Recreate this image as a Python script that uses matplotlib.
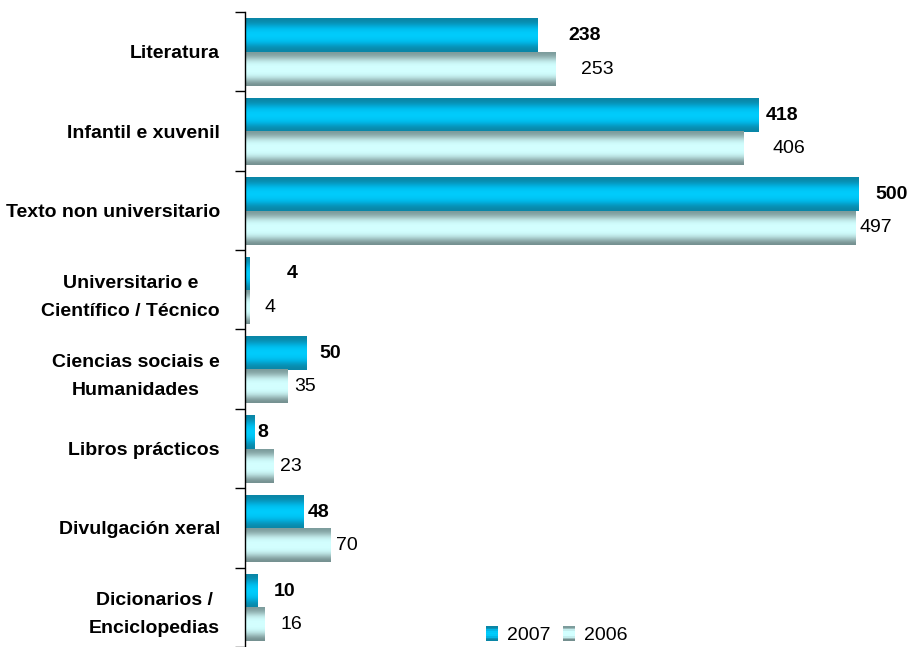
import numpy as np
import matplotlib.pyplot as plt
from matplotlib.patches import Rectangle
from matplotlib.legend_handler import HandlerBase
from matplotlib.colors import to_rgb

plt.rcParams['font.family'] = ['Liberation Sans', 'DejaVu Sans']

categories = ["Literatura", "Infantil e xuvenil", "Texto non universitario",
              "Universitario e\nCientífico / Técnico", "Ciencias sociais e\nHumanidades",
              "Libros prácticos", "Divulgación xeral", "Dicionarios /\nEnciclopedias"]
vals_2007 = [238, 418, 500, 4, 50, 8, 48, 10]
vals_2006 = [253, 406, 497, 4, 35, 23, 70, 16]

# label gaps (pixels) as placed in the original chart
pad_2007 = [31, 8, 17, 37, 13, 3, 4, 17]
pad_2006 = [25, 29, 5, 15, 6, 7, 5, 16]

# vertical colour ramps (top -> bottom) to mimic the shaded bars
ramp_2007 = ["#0a86a6", "#0795bb", "#00b6e6", "#00c8f8", "#00cdfd", "#00c8f8",
             "#00b6e6", "#0795bb", "#0a86a6"]
ramp_2006 = ["#7c9c9c", "#9cbcbc", "#c4eeee", "#d2ffff", "#d4ffff", "#d2ffff",
             "#c4eeee", "#9cbcbc", "#748f8f"]

grad_2007 = np.array([[to_rgb(c)] for c in ramp_2007])
grad_2006 = np.array([[to_rgb(c)] for c in ramp_2006])

fig = plt.figure(figsize=(9.09, 6.47), dpi=100)
ax = fig.add_axes([0.2695, 0.0, 0.7305, 0.9815])

h = 0.42
y = np.arange(len(categories))


def gradient_bar(ax, yc, width, grad):
    # y axis is inverted: top of bar is yc - h/2
    ax.imshow(grad, extent=(0, width, yc + h / 2, yc - h / 2), aspect='auto',
              interpolation='bicubic', zorder=2)


for i in range(len(categories)):
    gradient_bar(ax, y[i] - 0.2, vals_2007[i], grad_2007)
    gradient_bar(ax, y[i] + 0.22, vals_2006[i], grad_2006)
    ax.annotate(str(vals_2007[i]), (vals_2007[i], y[i] - 0.2), xytext=(pad_2007[i], 0),
                textcoords='offset pixels', ha='left', va='center',
                fontsize=14, fontweight='bold')
    ax.annotate(str(vals_2006[i]), (vals_2006[i], y[i] + 0.22), xytext=(pad_2006[i], 0),
                textcoords='offset pixels', ha='left', va='center', fontsize=14)

ax.set_xlim(0, 541)
ax.set_ylim(len(categories) - 0.5, -0.5)

for s in ['top', 'right', 'bottom']:
    ax.spines[s].set_visible(False)
ax.spines['left'].set_linewidth(1.0)
ax.set_xticks([])

ax.set_yticks(y)
ax.set_yticklabels(categories, fontsize=14, fontweight='bold', multialignment='center',
                   linespacing=1.85)
ax.tick_params(axis='y', which='major', length=0, pad=18)
ax.set_yticks(np.arange(-0.5, len(categories) + 0.5, 1), minor=True)
ax.tick_params(axis='y', which='minor', length=7, width=1, direction='out')


class GradHandler(HandlerBase):
    def __init__(self, grad):
        super().__init__()
        self.grad = grad

    def create_artists(self, legend, orig_handle, xd, yd, width, height, fontsize, trans):
        arts = []
        n = len(self.grad)
        sq = height * 1.1
        x0 = xd + width - sq
        for k in range(n):
            r = Rectangle((x0, yd + sq * (n - 1 - k) / n - 1), sq * 0.8, sq / n,
                          facecolor=self.grad[k, 0], edgecolor='none', transform=trans)
            arts.append(r)
        return arts


h1 = Rectangle((0, 0), 1, 1)
h2 = Rectangle((0, 0), 1, 1)
leg = fig.legend([h1, h2], ["2007", "2006"], loc='lower left', bbox_to_anchor=(0.515, -0.022),
                 ncol=2, frameon=False, fontsize=14, handlelength=0.8, handletextpad=0.3,
                 columnspacing=0.6,
                 handler_map={h1: GradHandler(grad_2007), h2: GradHandler(grad_2006)})

fig.savefig("out.png", dpi=100)
